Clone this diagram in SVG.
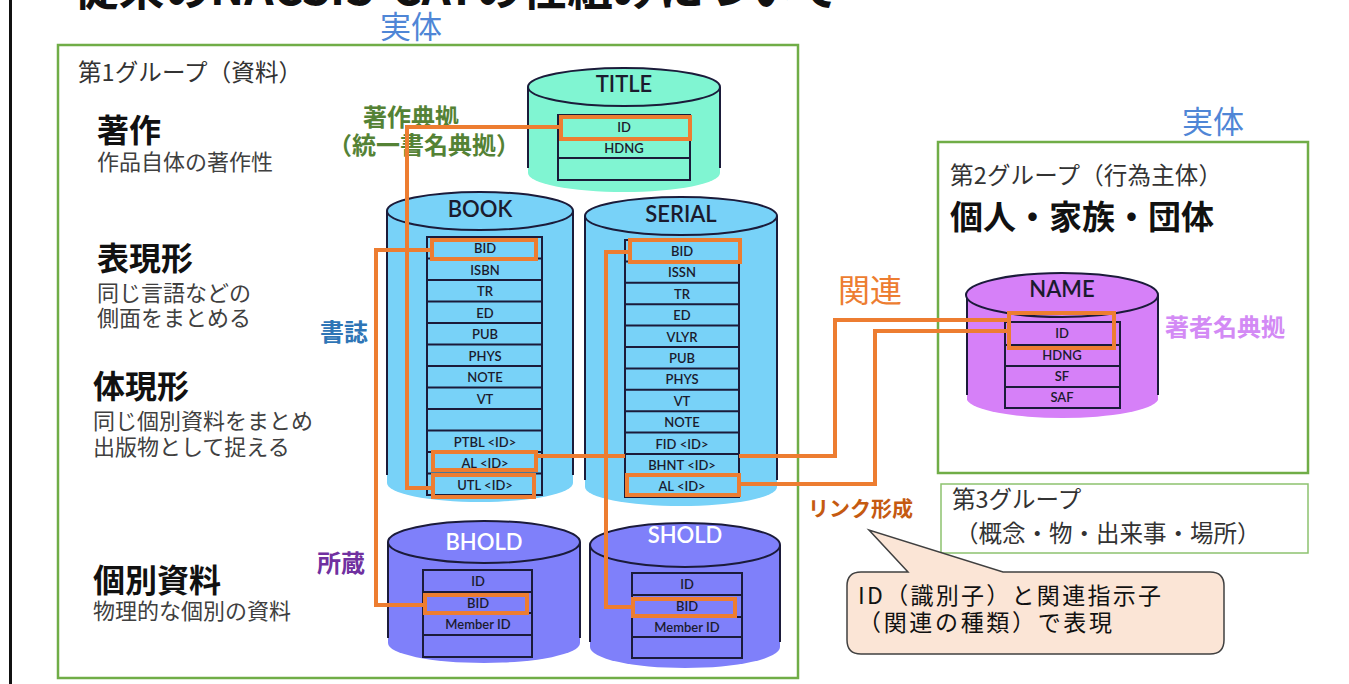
<svg xmlns="http://www.w3.org/2000/svg" width="1349" height="684" viewBox="0 0 1349 684">
<style>
.jp{font-family:"Noto Sans CJK JP","Noto Sans",sans-serif}
.hd{font-size:32px;font-weight:bold;fill:#111}
.sub{font-size:22px;fill:#404040}
.grp{font-size:23.5px;fill:#333}
.ent{font-size:31px;fill:#4F86D6}
.box{fill:none;stroke:#70AD47;stroke-width:2.5}
.tbl{fill:none;stroke:#1B1B3A;stroke-width:2}
.cyl{stroke:#1B1B3A;stroke-width:2}
.side{stroke:#1B1B3A;stroke-width:2}
.ttl{font-family:Lato,"Open Sans",sans-serif;font-size:22px;font-weight:600;fill:#1B1B2E;text-anchor:middle}
.fld{font-family:Lato,"Open Sans",sans-serif;font-size:13px;font-weight:600;fill:#1B1B2E;text-anchor:middle}
.hl{fill:none;stroke:#ED7D31;stroke-width:4}
.con{fill:none;stroke:#ED7D31;stroke-width:4}
</style>
<rect x="0" y="0" width="1349" height="684" fill="#fff"/>
<rect x="9" y="0" width="3" height="684" fill="#111"/>
<text class="jp" x="73" y="5" font-size="46" font-weight="bold" fill="#111" textLength="767" lengthAdjust="spacingAndGlyphs">従来のNACSIS-CATの仕組みについて</text>

<g id="group1">
<text class="jp ent" x="380" y="38">実体</text>
<rect class="box" x="58" y="45" width="740" height="633"/>
<text class="jp grp" x="78" y="81" textLength="224">第1グループ（資料）</text>
<text class="jp hd" x="97" y="142">著作</text>
<text class="jp sub" x="97" y="170">作品自体の著作性</text>
<text class="jp hd" x="97" y="270">表現形</text>
<text class="jp sub" x="97" y="301">同じ言語などの</text>
<text class="jp sub" x="97" y="326">側面をまとめる</text>
<text class="jp hd" x="93" y="398">体現形</text>
<text class="jp sub" x="93" y="429">同じ個別資料をまとめ</text>
<text class="jp sub" x="93" y="455">出版物として捉える</text>
<text class="jp hd" x="93" y="592" font-size="28">個別資料</text>
<text class="jp sub" x="93" y="619">物理的な個別の資料</text>
<text class="jp" x="363" y="126" font-size="24" font-weight="bold" fill="#548235">著作典拠</text>
<text class="jp" x="328" y="154" font-size="24" font-weight="bold" fill="#548235">（統一書名典拠）</text>
<text class="jp" x="320" y="341" font-size="24" font-weight="bold" fill="#2E75B6">書誌</text>
<text class="jp" x="317" y="572" font-size="24" font-weight="bold" fill="#7030A0">所蔵</text>
</g>

<g id="title-db">
<path d="M528 87 V173 A96 19 0 0 0 720 173 V87 Z" fill="#80F5D2"/>
<line class="side" x1="528" y1="87" x2="528" y2="168"/>
<line class="side" x1="720" y1="87" x2="720" y2="168"/>
<ellipse class="cyl" cx="624" cy="87" rx="96" ry="19" fill="#80F5D2"/>
<text class="ttl" x="624" y="92">TITLE</text>
<rect class="tbl" x="558" y="115" width="132" height="65"/>
<line class="tbl" x1="558" y1="138" x2="690" y2="138"/>
<line class="tbl" x1="558" y1="158" x2="690" y2="158"/>
<text class="fld" x="624" y="132">ID</text>
<text class="fld" x="624" y="153">HDNG</text>
<rect class="hl" x="561" y="117" width="129" height="22"/>
</g>

<g id="book-db">
<path d="M387 211 V483 A93 19 0 0 0 573 483 V211 Z" fill="#78D2F8"/>
<line class="side" x1="387" y1="211" x2="387" y2="475"/>
<line class="side" x1="573" y1="211" x2="573" y2="475"/>
<ellipse class="cyl" cx="480" cy="211" rx="93" ry="19" fill="#78D2F8"/>
<text class="ttl" x="480" y="217">BOOK</text>
<rect class="tbl" x="427" y="237" width="115" height="258"/>
<path class="tbl" d="M427 258.5H542M427 280H542M427 301.5H542M427 323H542M427 344.5H542M427 366H542M427 387.5H542M427 409H542M427 430.5H542M427 452H542M427 473.5H542"/>
<text class="fld" x="485" y="253">BID</text>
<text class="fld" x="485" y="274.5">ISBN</text>
<text class="fld" x="485" y="296">TR</text>
<text class="fld" x="485" y="317.5">ED</text>
<text class="fld" x="485" y="339">PUB</text>
<text class="fld" x="485" y="360.5">PHYS</text>
<text class="fld" x="485" y="382">NOTE</text>
<text class="fld" x="485" y="403.5">VT</text>
<text class="fld" x="485" y="446.5">PTBL &lt;ID&gt;</text>
<text class="fld" x="485" y="468">AL &lt;ID&gt;</text>
<text class="fld" x="485" y="489.5">UTL &lt;ID&gt;</text>
<rect class="hl" x="432" y="240" width="104" height="19"/>
<rect class="hl" x="433" y="452" width="103" height="18"/>
<rect class="hl" x="433" y="475" width="101" height="22"/>
</g>

<g id="serial-db">
<path d="M585 216 V487 A96 19 0 0 0 777 487 V216 Z" fill="#78D2F8"/>
<line class="side" x1="585" y1="216" x2="585" y2="480"/>
<line class="side" x1="777" y1="216" x2="777" y2="480"/>
<ellipse class="cyl" cx="681" cy="216" rx="96" ry="19" fill="#78D2F8"/>
<text class="ttl" x="681" y="222">SERIAL</text>
<rect class="tbl" x="625" y="240" width="114" height="257"/>
<path class="tbl" d="M625 261.4H739M625 282.8H739M625 304.2H739M625 325.6H739M625 347H739M625 368.4H739M625 389.8H739M625 411.2H739M625 432.6H739M625 454H739M625 475.4H739"/>
<text class="fld" x="682" y="256">BID</text>
<text class="fld" x="682" y="277.4">ISSN</text>
<text class="fld" x="682" y="298.8">TR</text>
<text class="fld" x="682" y="320.2">ED</text>
<text class="fld" x="682" y="341.6">VLYR</text>
<text class="fld" x="682" y="363">PUB</text>
<text class="fld" x="682" y="384.4">PHYS</text>
<text class="fld" x="682" y="405.8">VT</text>
<text class="fld" x="682" y="427.2">NOTE</text>
<text class="fld" x="682" y="448.6">FID &lt;ID&gt;</text>
<text class="fld" x="682" y="470">BHNT &lt;ID&gt;</text>
<text class="fld" x="682" y="491.4">AL &lt;ID&gt;</text>
<rect class="hl" x="630" y="240" width="110" height="22"/>
<rect class="hl" x="627" y="475" width="112" height="20"/>
</g>

<g id="bhold-db">
<path d="M388 542 V643 A96 20 0 0 0 580 643 V542 Z" fill="#7F80FA"/>
<line class="side" x1="388" y1="542" x2="388" y2="638"/>
<line class="side" x1="580" y1="542" x2="580" y2="638"/>
<ellipse class="cyl" cx="484" cy="542" rx="96" ry="21" fill="#7F80FA"/>
<text class="ttl" x="484" y="550" style="fill:#fff">BHOLD</text>
<rect class="tbl" x="423" y="570" width="109" height="87"/>
<path class="tbl" d="M423 592H532M423 613H532M423 635H532"/>
<text class="fld" x="478" y="586">ID</text>
<text class="fld" x="478" y="607.5">BID</text>
<text class="fld" x="478" y="629">Member ID</text>
<rect class="hl" x="425" y="595" width="102" height="18"/>
</g>

<g id="shold-db">
<path d="M590 545 V647 A95 21 0 0 0 780 647 V545 Z" fill="#7F80FA"/>
<line class="side" x1="590" y1="545" x2="590" y2="642"/>
<line class="side" x1="780" y1="545" x2="780" y2="642"/>
<ellipse class="cyl" cx="685" cy="545" rx="95" ry="22" fill="#7F80FA"/>
<text class="ttl" x="685" y="543" style="fill:#fff">SHOLD</text>
<rect class="tbl" x="632" y="573" width="110" height="85"/>
<path class="tbl" d="M632 595H742M632 617H742M632 637H742"/>
<text class="fld" x="687" y="589">ID</text>
<text class="fld" x="687" y="611">BID</text>
<text class="fld" x="687" y="632">Member ID</text>
<rect class="hl" x="633" y="599" width="102" height="17"/>
</g>

<g id="group2">
<text class="jp ent" x="1182" y="133">実体</text>
<rect class="box" x="938" y="142" width="370" height="331"/>
<text class="jp grp" x="950" y="184" textLength="272">第2グループ（行為主体）</text>
<text class="jp" x="950" y="229" font-size="33" font-weight="bold" fill="#111">個人・家族・団体</text>
<text class="jp" x="1165" y="336" font-size="24" font-weight="bold" fill="#D38AF5">著者名典拠</text>
</g>

<g id="name-db">
<path d="M967 295 V400 A96 20 0 0 0 1158 400 V295 Z" fill="#D680F8"/>
<line class="side" x1="967" y1="295" x2="967" y2="395"/>
<line class="side" x1="1158" y1="295" x2="1158" y2="395"/>
<ellipse class="cyl" cx="1062" cy="295" rx="96" ry="22" fill="#D680F8"/>
<text class="ttl" x="1062" y="297">NAME</text>
<rect class="tbl" x="1005" y="322" width="115" height="86"/>
<path class="tbl" d="M1005 345H1120M1005 366H1120M1005 387H1120"/>
<text class="fld" x="1062" y="338">ID</text>
<text class="fld" x="1062" y="360">HDNG</text>
<text class="fld" x="1062" y="381">SF</text>
<text class="fld" x="1062" y="402">SAF</text>
<rect class="hl" x="1009" y="313" width="105" height="35"/>
</g>

<g id="group3">
<rect x="941" y="484" width="367" height="69" fill="none" stroke="#8DC26F" stroke-width="1.5"/>
<text class="jp grp" x="952" y="508">第3グループ</text>
<text class="jp grp" x="955" y="542">（概念・物・出来事・場所）</text>
</g>

<g id="connectors">
<path class="con" d="M561 127 H407 V488 H433"/>
<path class="con" d="M432 250 H376 V605 H425"/>
<path class="con" d="M630 252 H606 V607 H633"/>
<path class="con" d="M536 456 H625 M739 456 H835 V320 H1009"/>
<path class="con" d="M739 484 H875 V331 H1009"/>
</g>

<g id="labels">
<text class="jp" x="838" y="302" font-size="32" fill="#ED7D31">関連</text>
<text class="jp" x="808" y="516" font-size="21" font-weight="bold" fill="#C55A11">リンク形成</text>
</g>

<g id="callout">
<path d="M861 572 H908 L869 530 L1003 572 H1210 Q1224 572 1224 586 V640 Q1224 654 1210 654 H861 Q847 654 847 640 V586 Q847 572 861 572 Z" fill="#FBE5D6" stroke="#404040" stroke-width="1.5"/>
<text class="jp" x="858" y="604" font-size="23" fill="#111" textLength="303">ID（識別子）と関連指示子</text>
<text class="jp" x="858" y="631" font-size="23" fill="#111" textLength="254">（関連の種類）で表現</text>
</g>
</svg>
